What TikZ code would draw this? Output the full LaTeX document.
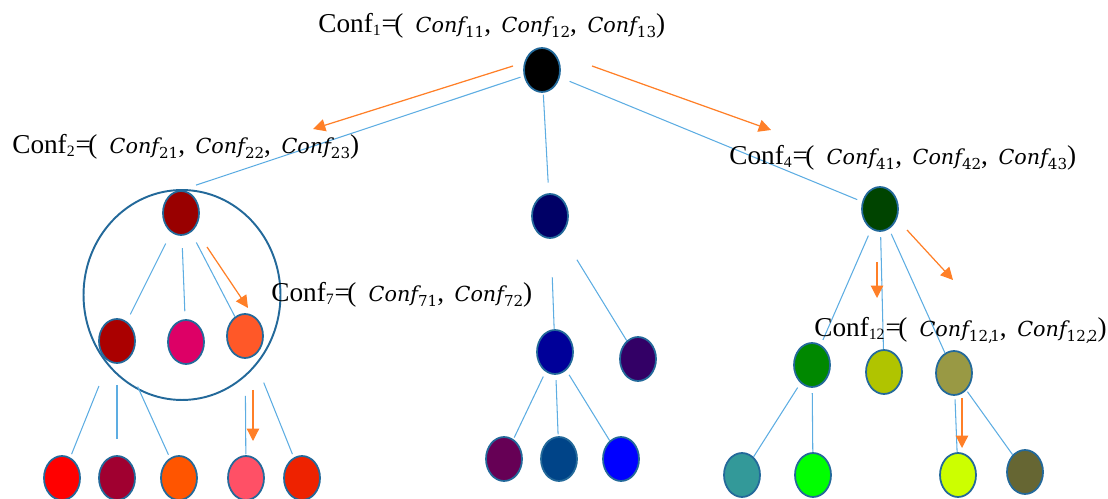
\documentclass[tikz,border=0pt]{standalone}
\usepackage{fontspec}
\setmainfont{Liberation Serif}
\newfontfamily\eqfont{DejaVu Serif}
\usetikzlibrary{shapes.geometric,arrows.meta}
\definecolor{edgeblue}{HTML}{5DADE2}
\definecolor{hoporange}{HTML}{FF7F27}
\definecolor{rim}{HTML}{23699A}
\newcommand{\confhead}[1]{Conf\raisebox{-0.2ex}{\fontsize{9}{10}\selectfont #1}\kern0.5pt=\kern-1.5pt(\hspace{7pt}}
\newcommand{\confpart}[1]{{\eqfont\fontsize{11.8}{13}\selectfont\itshape Conf}\raisebox{-2.8pt}{\eqfont\fontsize{8.6}{10}\selectfont #1}}
\newcommand{\confsep}{,\hspace{6pt}}
\tikzset{
  conf/.style={ellipse, draw=rim, line width=1pt, minimum width=0.72cm, minimum height=0.88cm, inner sep=0pt},
  edge/.style={edgeblue, line width=0.6pt},
  hop/.style={hoporange, line width=0.7pt, -{Triangle[length=7pt,width=7pt]}},
  lab/.style={font=\fontsize{15.5}{18}\selectfont, inner sep=0pt, anchor=base west}
}
\begin{document}
\begin{tikzpicture}[x=0.02cm, y=-0.02cm]
\useasboundingbox (0,0) rectangle (1108,499);
% configurations
\node[conf, fill=black] (c1) at (542,70) {};
\node[conf, fill={rgb,255:red,153;green,0;blue,0}] (c2) at (181,213) {};
\node[conf, fill={rgb,255:red,0;green,0;blue,102}] (c3) at (550,216) {};
\node[conf, fill={rgb,255:red,0;green,68;blue,0}] (c4) at (880,209) {};
\node[conf, fill={rgb,255:red,170;green,0;blue,0}] (c5) at (117,341) {};
\node[conf, fill={rgb,255:red,221;green,0;blue,102}] (c6) at (186,342) {};
\node[conf, fill={rgb,255:red,255;green,88;blue,40}] (c7) at (245,336) {};
\node[conf, fill={rgb,255:red,255;green,0;blue,0}] (c8) at (62,478) {};
\node[conf, fill={rgb,255:red,160;green,0;blue,48}] (c9) at (117,478) {};
\node[conf, fill={rgb,255:red,255;green,85;blue,0}] (c10) at (179,478) {};
\node[conf, fill={rgb,255:red,255;green,80;blue,102}] (c11) at (246,478) {};
\node[conf, fill={rgb,255:red,238;green,34;blue,0}] (c13) at (302,478) {};
\node[conf, fill={rgb,255:red,0;green,0;blue,153}] (c14) at (555,352) {};
\node[conf, fill={rgb,255:red,51;green,0;blue,102}] (c15) at (638,359) {};
\node[conf, fill={rgb,255:red,102;green,0;blue,85}] (c16) at (504,459) {};
\node[conf, fill={rgb,255:red,0;green,68;blue,136}] (c17) at (559,459) {};
\node[conf, fill={rgb,255:red,0;green,0;blue,255}] (c18) at (621,459) {};
\node[conf, fill={rgb,255:red,0;green,136;blue,0}] (c19) at (812,365) {};
\node[conf, fill={rgb,255:red,176;green,196;blue,0}] (c20) at (884,372) {};
\node[conf, fill={rgb,255:red,153;green,153;blue,68}] (c12) at (954,373) {};
\node[conf, fill={rgb,255:red,51;green,153;blue,153}] (c21) at (742,475) {};
\node[conf, fill={rgb,255:red,0;green,255;blue,0}] (c22) at (813,475) {};
\node[conf, fill={rgb,255:red,204;green,255;blue,0}] (c23) at (958,475) {};
\node[conf, fill={rgb,255:red,102;green,102;blue,51}] (c24) at (1025,472) {};
% group around Conf2
\node[ellipse, draw=rim, line width=1.1pt, minimum width=3.94cm, minimum height=4.2cm] (grp) at (182,295) {};
% tree edges: from/to/gap at start/gap at end
\foreach \a/\b/\s/\e in {c1/c2.north/2pt/9pt, c1/c3/1pt/6pt, c1/c4/6pt/3pt,
  c2/c5/7pt/4.5pt, c2/c6/7pt/4.5pt, c2/c7/6.5pt/0pt,
  c5/c8/15pt/2pt, c5/c9/12pt/9pt, c5/c10/16pt/2pt, c7/c11/21pt/0.5pt, c7/c13/16pt/2pt,
  c3/c14/22pt/0pt, c3/c15/17pt/0pt, c14/c16/3pt/1pt, c14/c17/3pt/1pt, c14/c18/3pt/0pt,
  c4/c19/4pt/3pt, c4/c20/3pt/0pt, c4/c12/3pt/0pt,
  c19/c21/3pt/0pt, c19/c22/3pt/0pt, c12/c23/2pt/0pt, c12/c24/1pt/0pt}
  \draw[edge, shorten <=\s, shorten >=\e] (\a) -- (\b);
% search moves
\coordinate (h1a) at (513,66);  \coordinate (h1b) at (313,129);
\coordinate (h2a) at (592,66);  \coordinate (h2b) at (771,130);
\coordinate (h3a) at (207,247); \coordinate (h3b) at (248,308);
\coordinate (h4a) at (253,390); \coordinate (h4b) at (253,441);
\coordinate (h5a) at (877,262); \coordinate (h5b) at (877,298);
\coordinate (h6a) at (907,230); \coordinate (h6b) at (953,280);
\coordinate (h7a) at (962,398); \coordinate (h7b) at (962,448);
\foreach \i in {1,...,7}
  \draw[hop] (h\i a) -- (h\i b);
% labels
\node[lab] (l1) at (318,33) {\confhead{1}\confpart{11}\confsep\confpart{12}\confsep\confpart{13})};
\node[lab] (l2) at (12,154) {\confhead{2}\confpart{21}\confsep\confpart{22}\confsep\confpart{23})};
\node[lab] (l4) at (729,165) {\confhead{4}\confpart{41}\confsep\confpart{42}\confsep\confpart{43})};
\node[lab] (l7) at (271,302) {\confhead{7}\confpart{71}\confsep\confpart{72})};
\node[lab] (l12) at (814,337) {\confhead{12}\confpart{12,\kern-1.5pt1}\confsep\confpart{12,\kern-1.5pt2})};
\end{tikzpicture}
\end{document}
